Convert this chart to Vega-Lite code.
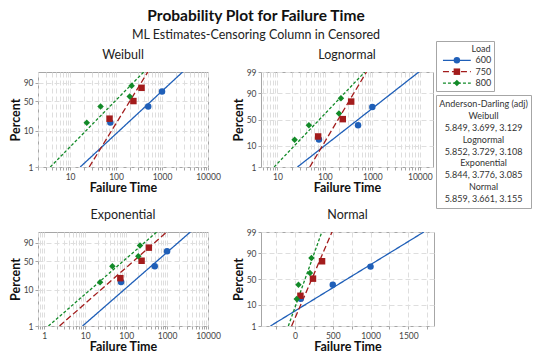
{
  "$schema": "https://vega.github.io/schema/vega-lite/v6.json",
  "background": "white",
  "padding": {"left": 8, "top": 8, "right": 0, "bottom": 0},
  "title": {
    "text": "Probability Plot for Failure Time",
    "subtitle": "ML Estimates-Censoring Column in Censored",
    "anchor": "middle", "frame": "bounds", "fontSize": 15.5, "fontWeight": "bold", "color": "#111",
    "subtitleFontSize": 12.5, "subtitleColor": "#222", "subtitlePadding": 5,
    "offset": -6, "dx": -14, "font": "Lato", "subtitleFont": "Lato"
  },
  "datasets": {
    "pts": [
      {"Load": "600", "time": 75, "pct": 16.3},
      {"Load": "600", "time": 500, "pct": 39},
      {"Load": "600", "time": 1000, "pct": 73},
      {"Load": "750", "time": 72, "pct": 20.3},
      {"Load": "750", "time": 238, "pct": 50.7},
      {"Load": "750", "time": 358, "pct": 81},
      {"Load": "800", "time": 23, "pct": 16},
      {"Load": "800", "time": 46, "pct": 39},
      {"Load": "800", "time": 198, "pct": 61.5},
      {"Load": "800", "time": 218, "pct": 85}
    ],
    "fits": [
      {"dist": "Weibull", "Load": "600", "time": 16.6, "pct": 1},
      {"dist": "Weibull", "Load": "600", "time": 2800, "pct": 99},
      {"dist": "Weibull", "Load": "750", "time": 26, "pct": 1},
      {"dist": "Weibull", "Load": "750", "time": 490, "pct": 99},
      {"dist": "Weibull", "Load": "800", "time": 3.7, "pct": 1},
      {"dist": "Weibull", "Load": "800", "time": 400, "pct": 99},
      {"dist": "Lognormal", "Load": "600", "time": 26.4, "pct": 1},
      {"dist": "Lognormal", "Load": "600", "time": 9550, "pct": 99},
      {"dist": "Lognormal", "Load": "750", "time": 48, "pct": 1},
      {"dist": "Lognormal", "Load": "750", "time": 752, "pct": 99},
      {"dist": "Lognormal", "Load": "800", "time": 8.5, "pct": 1},
      {"dist": "Lognormal", "Load": "800", "time": 693, "pct": 99},
      {"dist": "Exponential", "Load": "600", "time": 8.6, "pct": 1},
      {"dist": "Exponential", "Load": "600", "time": 3700, "pct": 99},
      {"dist": "Exponential", "Load": "750", "time": 2.35, "pct": 1},
      {"dist": "Exponential", "Load": "750", "time": 980, "pct": 99},
      {"dist": "Exponential", "Load": "800", "time": 1.26, "pct": 1},
      {"dist": "Exponential", "Load": "800", "time": 560, "pct": 99},
      {"dist": "Normal", "Load": "600", "time": -325, "pct": 1},
      {"dist": "Normal", "Load": "600", "time": 1705, "pct": 99},
      {"dist": "Normal", "Load": "750", "time": -45, "pct": 1},
      {"dist": "Normal", "Load": "750", "time": 490, "pct": 99},
      {"dist": "Normal", "Load": "800", "time": -88, "pct": 1},
      {"dist": "Normal", "Load": "800", "time": 355, "pct": 99}
    ],
    "ad": [
      {"t": "Anderson-Darling (adj)"},
      {"t": "Weibull"},
      {"t": "5.849, 3.699, 3.129"},
      {"t": "Lognormal"},
      {"t": "5.852, 3.729, 3.108"},
      {"t": "Exponential"},
      {"t": "5.844, 3.776, 3.085"},
      {"t": "Normal"},
      {"t": "5.859, 3.661, 3.155"}
    ],
    "leg": [
      {"Load": "600"},
      {"Load": "750"},
      {"Load": "800"}
    ],
    "leghead": [
      {"Load": "Load"}
    ]
  },
  "config": {
    "font": "Lato",
    "view": {"stroke": "#a6a6a6", "strokeWidth": 1},
    "axis": {
      "labelFontSize": 8.5, "labelColor": "#444", "labelFont": "Lato",
      "titleFontSize": 12.5, "titleFontWeight": "bold", "titleColor": "#111", "titleFont": "Lato",
      "gridColor": "#dedede", "gridDash": [5, 3], "gridWidth": 1,
      "domain": false, "tickColor": "#a6a6a6", "tickSize": 3, "labelPadding": 2,
      "labelFlush": false, "labelOverlap": false, "titlePadding": 4
    },
    "axisX": {"titlePadding": 1},
    "axisY": {"titleX": -16},
    "title": {"fontSize": 12.5, "fontWeight": "normal", "color": "#222", "font": "Lato"}
  },
  "spacing": 0,
  "hconcat": [
    {
      "spacing": 1,
      "vconcat": [
        {
          "width": 10, "height": 1,
          "view": {"stroke": null},
          "data": {"values": [{}]},
          "mark": {"type": "text", "text": ""},
          "encoding": {}
        },
        {
          "spacing": 13,
          "vconcat": [
            {
              "spacing": 10,
              "hconcat": [
                {
                  "title": {"text": "Weibull", "offset": 11, "frame": "group"},
                  "width": 170, "height": 95,
                  "encoding": {
                    "x": {"field": "time", "type": "quantitative",
                      "scale": {"type": "log", "domain": [2, 10000], "nice": false},
                      "axis": {"title": "Failure Time",
                        "values": [2,3,4,5,6,7,8,9,10,20,30,40,50,60,70,80,90,100,200,300,400,500,600,700,800,900,1000,2000,3000,4000,5000,6000,7000,8000,9000,10000],
                        "labelExpr": "indexof([1,10,100,1000,10000], datum.value) >= 0 ? '' + datum.value : ''"}},
                    "y": {"field": "q", "type": "quantitative",
                      "scale": {"domain": [-4.60015, 1.52718], "nice": false, "zero": false},
                      "axis": {"title": "Percent", "values": [-4.60015, -2.25037, -0.36651, 0.83403],
                        "labelExpr": "datum.value < -4 ? '1' : datum.value < -2 ? '10' : datum.value < 0 ? '50' : '90'"}},
                    "color": {"field": "Load", "type": "nominal", "scale": {"domain": ["600", "750", "800"], "range": ["#1F5FB8", "#A31C1C", "#128A28"]}, "legend": null}
                  },
                  "layer": [
                    {
                      "data": {"name": "fits"},
                      "transform": [{"filter": "datum.dist === 'Weibull'"}, {"calculate": "log(-log(1 - datum.pct / 100))", "as": "q"}],
                      "mark": {"type": "line", "clip": true, "strokeWidth": 1.3},
                      "encoding": {"strokeDash": {"field": "Load", "type": "nominal", "scale": {"domain": ["600", "750", "800"], "range": [[1, 0], [6, 3], [3, 2]]}, "legend": null}}
                    },
                    {
                      "data": {"name": "pts"},
                      "transform": [{"calculate": "log(-log(1 - datum.pct / 100))", "as": "q"}],
                      "mark": {"type": "point", "filled": true, "opacity": 1, "size": 42},
                      "encoding": {"shape": {"field": "Load", "type": "nominal", "scale": {"domain": ["600", "750", "800"], "range": ["circle", "square", "diamond"]}, "legend": null}}
                    }
                  ]
                },
                {
                  "title": {"text": "Lognormal", "offset": 7, "frame": "group"},
                  "width": 172, "height": 95,
                  "encoding": {
                    "x": {"field": "time", "type": "quantitative",
                      "scale": {"type": "log", "domain": [4.5, 19000], "nice": false},
                      "axis": {"title": "Failure Time",
                        "values": [5,6,7,8,9,10,20,30,40,50,60,70,80,90,100,200,300,400,500,600,700,800,900,1000,2000,3000,4000,5000,6000,7000,8000,9000,10000],
                        "labelExpr": "indexof([1,10,100,1000,10000], datum.value) >= 0 ? '' + datum.value : ''"}},
                    "y": {"field": "q", "type": "quantitative",
                      "scale": {"domain": [-2.32635, 2.32635], "nice": false, "zero": false},
                      "axis": {"title": "Percent", "values": [-2.32635, -1.28155, 0, 1.28155, 2.32635],
                        "labelExpr": "datum.value < -2 ? '1' : datum.value < -1 ? '10' : datum.value < 1 ? '50' : datum.value < 2 ? '90' : '99'"}},
                    "color": {"field": "Load", "type": "nominal", "scale": {"domain": ["600", "750", "800"], "range": ["#1F5FB8", "#A31C1C", "#128A28"]}, "legend": null}
                  },
                  "layer": [
                    {
                      "data": {"name": "fits"},
                      "transform": [{"filter": "datum.dist === 'Lognormal'"}, {"calculate": "quantileNormal(datum.pct / 100)", "as": "q"}],
                      "mark": {"type": "line", "clip": true, "strokeWidth": 1.3},
                      "encoding": {"strokeDash": {"field": "Load", "type": "nominal", "scale": {"domain": ["600", "750", "800"], "range": [[1, 0], [6, 3], [3, 2]]}, "legend": null}}
                    },
                    {
                      "data": {"name": "pts"},
                      "transform": [{"calculate": "quantileNormal(datum.pct / 100)", "as": "q"}],
                      "mark": {"type": "point", "filled": true, "opacity": 1, "size": 42},
                      "encoding": {"shape": {"field": "Load", "type": "nominal", "scale": {"domain": ["600", "750", "800"], "range": ["circle", "square", "diamond"]}, "legend": null}}
                    }
                  ]
                }
              ]
            },
            {
              "spacing": 10,
              "hconcat": [
                {
                  "title": {"text": "Exponential", "offset": 11, "frame": "group"},
                  "width": 170, "height": 94,
                  "encoding": {
                    "x": {"field": "time", "type": "quantitative",
                      "scale": {"type": "log", "domain": [0.7, 10000], "nice": false},
                      "axis": {"title": "Failure Time",
                        "values": [0.7,0.8,0.9,1,2,3,4,5,6,7,8,9,10,20,30,40,50,60,70,80,90,100,200,300,400,500,600,700,800,900,1000,2000,3000,4000,5000,6000,7000,8000,9000,10000],
                        "labelExpr": "indexof([1,10,100,1000,10000], datum.value) >= 0 ? '' + datum.value : ''"}},
                    "y": {"field": "q", "type": "quantitative",
                      "scale": {"domain": [-4.60015, 1.52718], "nice": false, "zero": false},
                      "axis": {"title": "Percent", "values": [-4.60015, -2.25037, -0.36651, 0.83403],
                        "labelExpr": "datum.value < -4 ? '1' : datum.value < -2 ? '10' : datum.value < 0 ? '50' : '90'"}},
                    "color": {"field": "Load", "type": "nominal", "scale": {"domain": ["600", "750", "800"], "range": ["#1F5FB8", "#A31C1C", "#128A28"]}, "legend": null}
                  },
                  "layer": [
                    {
                      "data": {"name": "fits"},
                      "transform": [{"filter": "datum.dist === 'Exponential'"}, {"calculate": "log(-log(1 - datum.pct / 100))", "as": "q"}],
                      "mark": {"type": "line", "clip": true, "strokeWidth": 1.3},
                      "encoding": {"strokeDash": {"field": "Load", "type": "nominal", "scale": {"domain": ["600", "750", "800"], "range": [[1, 0], [6, 3], [3, 2]]}, "legend": null}}
                    },
                    {
                      "data": {"name": "pts"},
                      "transform": [{"calculate": "log(-log(1 - datum.pct / 100))", "as": "q"}],
                      "mark": {"type": "point", "filled": true, "opacity": 1, "size": 42},
                      "encoding": {"shape": {"field": "Load", "type": "nominal", "scale": {"domain": ["600", "750", "800"], "range": ["circle", "square", "diamond"]}, "legend": null}}
                    }
                  ]
                },
                {
                  "title": {"text": "Normal", "offset": 7, "frame": "group"},
                  "width": 173, "height": 94,
                  "encoding": {
                    "x": {"field": "time", "type": "quantitative",
                      "scale": {"domain": [-450, 1840], "nice": false, "zero": false},
                      "axis": {"title": "Failure Time",
                        "values": [-250, 0, 250, 500, 750, 1000, 1250, 1500, 1750],
                        "labelExpr": "indexof([0,500,1000,1500], datum.value) >= 0 ? '' + datum.value : ''"}},
                    "y": {"field": "q", "type": "quantitative",
                      "scale": {"domain": [-2.32635, 2.32635], "nice": false, "zero": false},
                      "axis": {"title": "Percent", "values": [-2.32635, -1.28155, 0, 1.28155, 2.32635],
                        "labelExpr": "datum.value < -2 ? '1' : datum.value < -1 ? '10' : datum.value < 1 ? '50' : datum.value < 2 ? '90' : '99'"}},
                    "color": {"field": "Load", "type": "nominal", "scale": {"domain": ["600", "750", "800"], "range": ["#1F5FB8", "#A31C1C", "#128A28"]}, "legend": null}
                  },
                  "layer": [
                    {
                      "data": {"name": "fits"},
                      "transform": [{"filter": "datum.dist === 'Normal'"}, {"calculate": "quantileNormal(datum.pct / 100)", "as": "q"}],
                      "mark": {"type": "line", "clip": true, "strokeWidth": 1.3},
                      "encoding": {"strokeDash": {"field": "Load", "type": "nominal", "scale": {"domain": ["600", "750", "800"], "range": [[1, 0], [6, 3], [3, 2]]}, "legend": null}}
                    },
                    {
                      "data": {"name": "pts"},
                      "transform": [{"calculate": "quantileNormal(datum.pct / 100)", "as": "q"}],
                      "mark": {"type": "point", "filled": true, "opacity": 1, "size": 42},
                      "encoding": {"shape": {"field": "Load", "type": "nominal", "scale": {"domain": ["600", "750", "800"], "range": ["circle", "square", "diamond"]}, "legend": null}}
                    }
                  ]
                }
              ]
            }
          ]
        }
      ]
    },
    {
      "spacing": 2,
      "vconcat": [
        {
          "width": 58, "height": 50,
          "encoding": {
            "y": {"field": "Load", "type": "ordinal", "scale": {"type": "point", "domain": ["Load", "600", "750", "800"], "padding": 0.7}, "axis": null}
          },
          "layer": [
            {
              "data": {"name": "leg"},
              "mark": {"type": "rule", "strokeWidth": 1.3},
              "encoding": {
                "x": {"datum": 1.2, "type": "quantitative", "scale": {"domain": [0, 10]}, "axis": null},
                "x2": {"datum": 6},
                "color": {"field": "Load", "type": "nominal", "scale": {"domain": ["600", "750", "800"], "range": ["#1F5FB8", "#A31C1C", "#128A28"]}, "legend": null},
                "strokeDash": {"field": "Load", "type": "nominal", "scale": {"domain": ["600", "750", "800"], "range": [[1, 0], [6, 3], [3, 2]]}, "legend": null}
              }
            },
            {
              "data": {"name": "leg"},
              "mark": {"type": "point", "filled": true, "opacity": 1, "size": 42},
              "encoding": {
                "x": {"datum": 3.6, "type": "quantitative"},
                "color": {"field": "Load", "type": "nominal", "scale": {"domain": ["600", "750", "800"], "range": ["#1F5FB8", "#A31C1C", "#128A28"]}, "legend": null},
                "shape": {"field": "Load", "type": "nominal", "scale": {"domain": ["600", "750", "800"], "range": ["circle", "square", "diamond"]}, "legend": null}
              }
            },
            {
              "data": {"name": "leg"},
              "mark": {"type": "text", "align": "left", "fontSize": 9, "color": "#333"},
              "encoding": {
                "x": {"datum": 6.8, "type": "quantitative"},
                "text": {"field": "Load"}
              }
            },
            {
              "data": {"name": "leghead"},
              "mark": {"type": "text", "align": "right", "fontSize": 9, "color": "#333"},
              "encoding": {
                "x": {"datum": 9.4, "type": "quantitative"},
                "text": {"field": "Load"}
              }
            }
          ]
        },
        {
          "width": 95, "height": 113,
          "data": {"name": "ad"},
          "mark": {"type": "text", "fontSize": 9, "color": "#333"},
          "encoding": {
            "y": {"field": "t", "type": "ordinal", "sort": null, "scale": {"type": "point", "padding": 0.8}, "axis": null},
            "text": {"field": "t"}
          }
        }
      ]
    }
  ]
}
